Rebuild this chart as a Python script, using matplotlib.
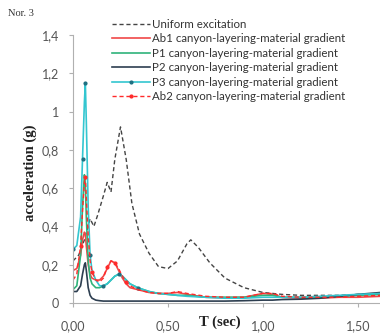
import matplotlib
matplotlib.use("Agg")
import matplotlib.pyplot as plt
from matplotlib.ticker import FuncFormatter

# ---- data ----
T = [0.00, 0.02, 0.04, 0.05, 0.06, 0.065, 0.07, 0.08, 0.09, 0.10, 0.12, 0.14,
     0.16, 0.18, 0.20, 0.22, 0.24, 0.26, 0.28, 0.30, 0.34, 0.40, 0.45, 0.50,
     0.55, 0.60, 0.70, 0.80, 0.90, 1.00, 1.05, 1.10, 1.20, 1.30, 1.40, 1.50, 1.62]

ab1 = [0.17, 0.18, 0.25, 0.33, 0.37, 0.36, 0.30, 0.20, 0.15, 0.13, 0.12, 0.12,
       0.14, 0.18, 0.22, 0.21, 0.17, 0.13, 0.10, 0.08, 0.07, 0.055, 0.05, 0.05,
       0.055, 0.045, 0.03, 0.028, 0.03, 0.05, 0.045, 0.03, 0.025, 0.025, 0.03, 0.03, 0.035]

p1 = [0.07, 0.09, 0.25, 0.50, 0.67, 0.62, 0.45, 0.22, 0.13, 0.10, 0.08, 0.08,
      0.09, 0.10, 0.12, 0.14, 0.15, 0.14, 0.12, 0.10, 0.08, 0.06, 0.05, 0.045,
      0.04, 0.04, 0.03, 0.03, 0.03, 0.04, 0.04, 0.03, 0.03, 0.03, 0.035, 0.04, 0.045]

p2 = [0.06, 0.06, 0.09, 0.15, 0.20, 0.21, 0.17, 0.08, 0.04, 0.025, 0.015, 0.012,
      0.01, 0.01, 0.01, 0.01, 0.01, 0.01, 0.01, 0.01, 0.01, 0.01, 0.01, 0.01,
      0.01, 0.01, 0.01, 0.01, 0.012, 0.015, 0.015, 0.018, 0.02, 0.025, 0.035, 0.045, 0.055]

p3 = [0.28, 0.30, 0.45, 0.75, 1.05, 1.15, 0.95, 0.50, 0.25, 0.17, 0.12, 0.09,
      0.09, 0.10, 0.12, 0.14, 0.15, 0.14, 0.12, 0.10, 0.08, 0.06, 0.05, 0.045,
      0.04, 0.035, 0.03, 0.025, 0.025, 0.03, 0.03, 0.03, 0.03, 0.035, 0.04, 0.045, 0.05]

ab2 = [0.12, 0.15, 0.30, 0.48, 0.63, 0.66, 0.55, 0.35, 0.22, 0.16, 0.12, 0.11,
       0.13, 0.19, 0.22, 0.21, 0.18, 0.14, 0.11, 0.09, 0.07, 0.055, 0.05, 0.05,
       0.06, 0.05, 0.035, 0.03, 0.03, 0.05, 0.05, 0.035, 0.03, 0.03, 0.03, 0.035, 0.04]

T_u = [0.00, 0.03, 0.06, 0.09, 0.11, 0.13, 0.16, 0.18, 0.20, 0.22, 0.25, 0.28,
       0.31, 0.35, 0.40, 0.45, 0.50, 0.55, 0.60, 0.62, 0.66, 0.72, 0.80, 0.90,
       1.00, 1.10, 1.20, 1.30, 1.40, 1.50, 1.62]
uniform = [0.22, 0.25, 0.33, 0.44, 0.40, 0.46, 0.56, 0.63, 0.58, 0.75, 0.92, 0.75,
           0.52, 0.36, 0.26, 0.19, 0.18, 0.22, 0.31, 0.33, 0.29, 0.21, 0.13, 0.08,
           0.055, 0.045, 0.04, 0.04, 0.04, 0.045, 0.05]

labels = ["Uniform excitation",
          "Ab1 canyon-layering-material gradient",
          "P1 canyon-layering-material gradient",
          "P2 canyon-layering-material gradient",
          "P3 canyon-layering-material gradient",
          "Ab2 canyon-layering-material gradient"]

yticks = [0, 0.2, 0.4, 0.6, 0.8, 1.0, 1.2, 1.4]
xticks = [0.0, 0.5, 1.0, 1.5]

# ---- figure ----
fig = plt.figure(figsize=(3.8, 3.34), dpi=100)
ax = fig.add_axes([73/380, 1-303/334, 1-73/380, (303-35)/334])

ax.plot(T_u, uniform, color="#444444", lw=1.0, ls=(0, (3, 2)), label=labels[0])
ax.plot(T, ab1, color="#f04848", lw=1.2, label=labels[1])
ax.plot(T, p1, color="#2fb37a", lw=1.2, label=labels[2])
ax.plot(T, p2, color="#2d3e50", lw=1.2, label=labels[3])
ax.plot(T, p3, color="#33c6d0", lw=1.2, marker="o", ms=2.0, mfc="#1f6f80",
        mec="#1f6f80", markevery=[0, 3, 5, 8, 12, 16, 20], label=labels[4])
ax.plot(T, ab2, color="#ff2a2a", lw=1.0, ls=(0, (3, 2)), marker="o", ms=2.0,
        markevery=[2, 5, 9, 13, 15, 18], label=labels[5])

ax.set_xlim(0, (380-73)/190)
ax.set_ylim(0, 1.4)
ax.set_xticks(xticks)
ax.set_yticks(yticks)

def comma_fmt(nd):
    return FuncFormatter(lambda v, p: (f"{v:.{nd}f}").replace(".", ","))

ax.xaxis.set_major_formatter(comma_fmt(2))
ax.yaxis.set_major_formatter(FuncFormatter(
    lambda v, p: "0" if v == 0 else ("1" if abs(v-1) < 1e-9 else f"{v:.1f}".replace(".", ","))))

for s in ["top", "right"]:
    ax.spines[s].set_visible(False)
for s in ["left", "bottom"]:
    ax.spines[s].set_color("#b0b0b0")
    ax.spines[s].set_linewidth(0.8)

ax.tick_params(axis="both", colors="#b0b0b0", labelcolor="#555555",
               labelsize=9, length=3, width=0.8)
ax.tick_params(axis="y", pad=7)
ax.tick_params(axis="x", pad=9)
for lab in ax.get_xticklabels() + ax.get_yticklabels():
    lab.set_family("Lato")

fig.text(30/380, 1-173/334, "acceleration (g)", rotation=90, ha="center",
         va="center", family="Liberation Serif", weight="bold", fontsize=10.5,
         color="#222222")
fig.text(220/380, 1-322/334, "T (sec)", ha="center", va="center",
         family="Liberation Serif", weight="bold", fontsize=10.5, color="#222222")
fig.text(8/380, 1-13/334, "Nor. 3", ha="left", va="center",
         family="Liberation Serif", fontsize=7.5, color="#333333")

leg = ax.legend(loc="upper left", bbox_to_anchor=(112/380, 1-19/334),
                bbox_transform=fig.transFigure, frameon=False,
                prop={"family": "Lato", "size": 8.3}, borderpad=0,
                borderaxespad=0, handlelength=3.3, handletextpad=0.2,
                labelspacing=0.3)
for t in leg.get_texts():
    t.set_color("#333333")

fig.savefig("out.png", dpi=100, facecolor="white")
